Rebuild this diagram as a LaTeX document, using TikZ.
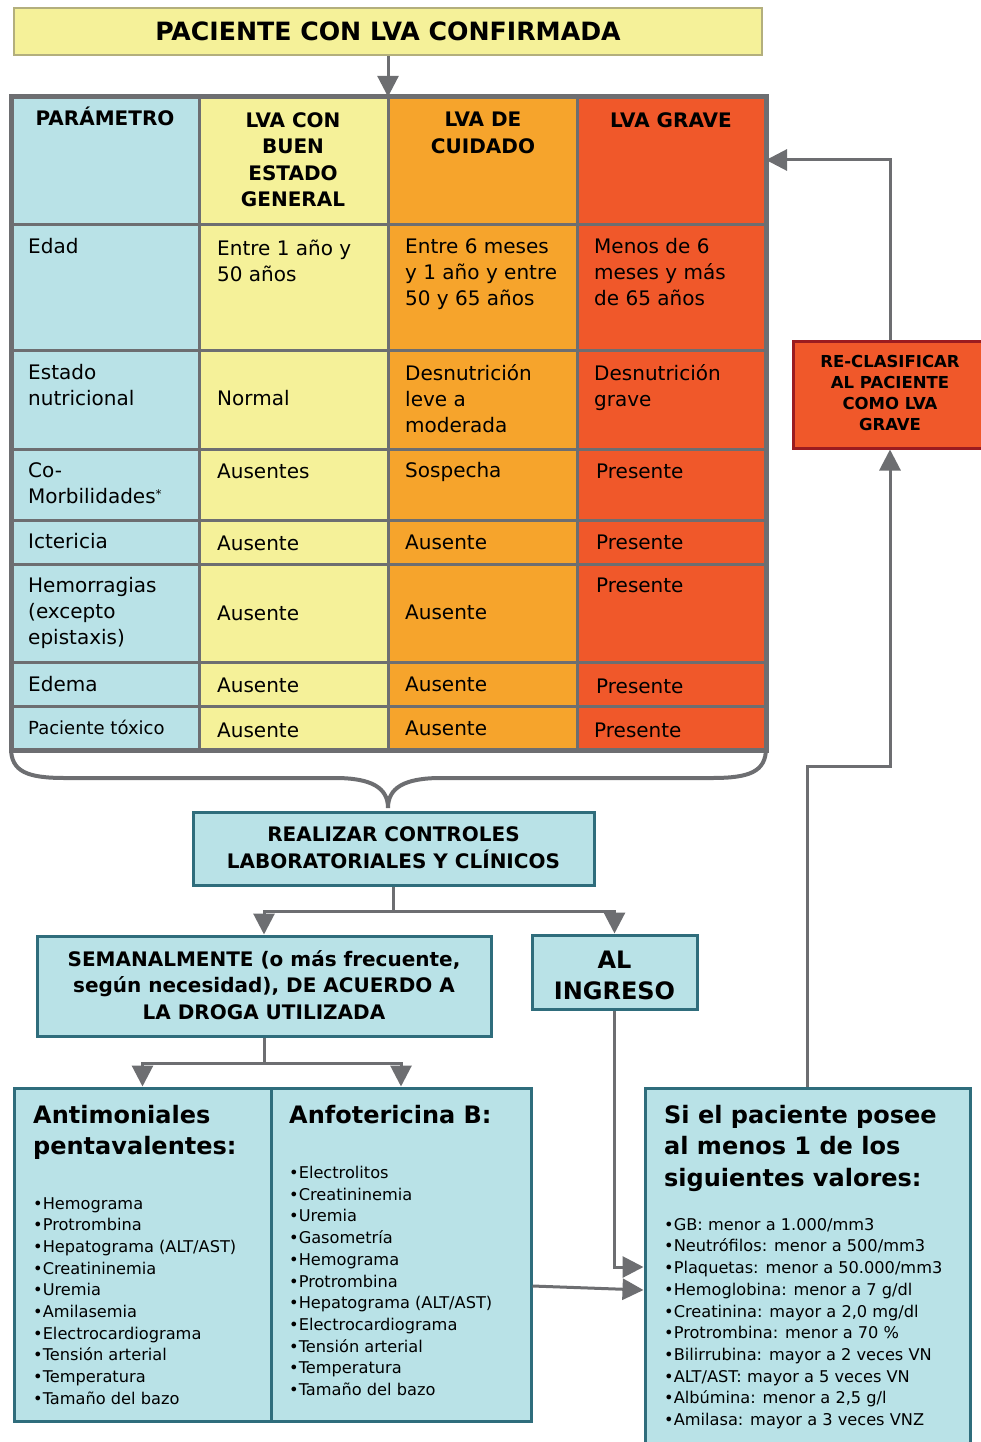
\documentclass[tikz,border=0pt]{standalone}
\usepackage{fontspec}
\setmainfont{DejaVu Sans}
\usetikzlibrary{arrows.meta}
\definecolor{cblue}{HTML}{B9E2E7}
\definecolor{cyel}{HTML}{F5F199}
\definecolor{corange}{HTML}{F6A42C}
\definecolor{cred}{HTML}{F0582A}
\definecolor{cgrey}{HTML}{6D6E71}
\definecolor{cteal}{HTML}{2F6D7C}
\definecolor{cdred}{HTML}{9B1C20}
\definecolor{colive}{HTML}{B3AF7D}
\newcommand{\myfs}[2]{\fontsize{#1}{#2}\selectfont}
\begin{document}
\begin{tikzpicture}[x=1pt,y=-1pt,
  conn/.style={draw=cgrey, line width=3pt, -{Triangle[length=21pt,width=21pt]}},
  plain/.style={draw=cgrey, line width=3pt},
  bracepath/.style={draw=cgrey, line width=4pt},
  grid/.style={draw=cgrey, line width=3pt},
  tbox/.style={draw=cteal, line width=3pt, fill=cblue, inner sep=0},
  cell/.style={anchor=north west, inner sep=0, align=left, font=\myfs{20}{26}},
  hdr/.style={anchor=north, inner sep=0, align=center, font=\bfseries\myfs{20}{26.3}},
  bighead/.style={anchor=north west, inner sep=0, align=left, font=\bfseries\myfs{24}{31.5}},
  items/.style={anchor=north west, inner sep=0, align=left, font=\myfs{16.2}{21.7}},
  boxtext/.style={inner sep=0, align=center, font=\bfseries\myfs{20}{26.5}}
]
\useasboundingbox (0,0) rectangle (981,1442);
\clip (0,0) rectangle (981,1442);

% top box
\node[draw=colive, line width=2.5pt, fill=cyel, minimum width=748pt, minimum height=47pt, inner sep=0,
      font=\bfseries\myfs{25.2}{30}] (top) at (388,31.5) {PACIENTE CON LVA CONFIRMADA};

% table
\fill[cblue] (11,97) rectangle (199,750);
\fill[cyel] (199,97) rectangle (388,750);
\fill[corange] (388,97) rectangle (577,750);
\fill[cred] (577,97) rectangle (766,750);
\foreach \x in {199,388,577} \draw[grid] (\x,97) -- (\x,750);
\foreach \y in {224,350,449,520,564,662,706} \draw[grid] (11,\y) -- (766,\y);
\draw[draw=cgrey, line width=5pt] (11,97) rectangle (766,750);
\node[inner sep=0, minimum width=755pt, minimum height=653pt] (table) at (388,423.5) {};
\coordinate (tabin) at (766,160);

% header
\node[hdr, anchor=base] (h1) at (105,126) {PARÁMETRO};
\node[hdr] (h2) at (293,112.5) {LVA CON\\BUEN\\ESTADO\\GENERAL};
\node[hdr] (h3) at (483,112) {LVA DE\\CUIDADO};
\node[hdr] (h4) at (671,112.5) {LVA GRAVE};

% column 1
\node[cell] (a1) at (28,238.5) {Edad};
\node[cell] (a2) at (28,364.5) {Estado\\nutricional};
\node[cell] (a3) at (28,462.5) {Co-\\Morbilidades\raisebox{5pt}{\myfs{12}{12}*}};
\node[cell] (a4) at (28,533.5) {Ictericia};
\node[cell] (a5) at (28,577.5) {Hemorragias\\(excepto\\epistaxis)};
\node[cell] (a6) at (28,676.5) {Edema};
\node[cell, font=\myfs{18}{22}] (a7) at (28,720) {Paciente tóxico};
% column 2
\node[cell] (b1) at (217,239.5) {Entre 1 año y\\50 años};
\node[cell] (b2) at (217,390.5) {Normal};
\node[cell] (b3) at (217,463.5) {Ausentes};
\node[cell] (b4) at (217,535.5) {Ausente};
\node[cell] (b5) at (217,605.5) {Ausente};
\node[cell] (b6) at (217,677.5) {Ausente};
\node[cell] (b7) at (217,722.5) {Ausente};
% column 3
\node[cell] (c1) at (405,238.5) {Entre 6 meses\\y 1 año y entre\\50 y 65 años};
\node[cell] (c2) at (405,364.5) {Desnutrición\\leve a\\moderada};
\node[cell] (c3) at (405,462.5) {Sospecha};
\node[cell] (c4) at (405,534.5) {Ausente};
\node[cell] (c5) at (405,604.5) {Ausente};
\node[cell] (c6) at (405,676.5) {Ausente};
\node[cell] (c7) at (405,720.5) {Ausente};
% column 4
\node[cell] (d1) at (594,238.5) {Menos de 6\\meses y más\\de 65 años};
\node[cell] (d2) at (594,364.5) {Desnutrición\\grave};
\node[cell] (d3) at (596,463.5) {Presente};
\node[cell] (d4) at (596,534.5) {Presente};
\node[cell] (d5) at (596,577.5) {Presente};
\node[cell] (d6) at (596,678.5) {Presente};
\node[cell] (d7) at (594,722.5) {Presente};

% brace under table
\draw[bracepath] (11,748) .. controls (11,772) and (28,778) .. (65,778) -- (335,778)
  .. controls (372,778) and (388,788) .. (388,808)
  .. controls (388,788) and (404,778) .. (441,778) -- (712,778)
  .. controls (749,778) and (766,772) .. (766,748);

% boxes
\node[tbox, minimum width=401pt, minimum height=73pt] (real) at (393.5,848.5) {};
\node[boxtext] (realt) at (393.5,847.5) {REALIZAR CONTROLES\\LABORATORIALES Y CLÍNICOS};
\node[tbox, minimum width=454pt, minimum height=100pt] (sema) at (264,986) {};
\node[boxtext] (semat) at (264,985) {SEMANALMENTE (o más frecuente,\\según necesidad), DE ACUERDO A\\LA DROGA UTILIZADA};
\node[tbox, minimum width=165pt, minimum height=74pt] (ingr) at (614.5,972) {};
\node[boxtext, font=\bfseries\myfs{24}{31}] (ingrt) at (614.5,975.5) {AL\\INGRESO};

\node[tbox, minimum width=257pt, minimum height=333pt] (anti) at (142.5,1254.5) {};
\node[tbox, minimum width=260pt, minimum height=333pt] (anfo) at (401,1254.5) {};
\node[tbox, minimum width=325pt, minimum height=370pt] (crit) at (807.5,1273) {};

\node[draw=cdred, line width=3pt, fill=cred, minimum width=194pt, minimum height=107pt, inner sep=0] (recl) at (890,394.5) {};
\node[inner sep=0, align=center, font=\bfseries\myfs{16.5}{21}] (reclt) at (890,392.5) {RE-CLASIFICAR\\AL PACIENTE\\COMO LVA\\GRAVE};

% box texts
\node[bighead] (antih) at (33,1105) {Antimoniales\\pentavalentes:};
\node[items] (antil) at (33,1197) {•Hemograma\\•Protrombina\\•Hepatograma (ALT/AST)\\•Creatininemia\\•Uremia\\•Amilasemia\\•Electrocardiograma\\•Tensión arterial\\•Temperatura\\•Tamaño del bazo};
\node[bighead] (anfoh) at (289,1105) {Anfotericina B:};
\node[items] (anfol) at (289,1166) {•Electrolitos\\•Creatininemia\\•Uremia\\•Gasometría\\•Hemograma\\•Protrombina\\•Hepatograma (ALT/AST)\\•Electrocardiograma\\•Tensión arterial\\•Temperatura\\•Tamaño del bazo};
\node[bighead] (crith) at (664,1105) {Si el paciente posee\\al menos 1 de los\\siguientes valores:};
\node[items] (critl) at (664,1218) {•GB: menor a 1.000/mm3\\•Neutrófilos: menor a 500/mm3\\•Plaquetas: menor a 50.000/mm3\\•Hemoglobina: menor a 7 g/dl\\•Creatinina: mayor a 2,0 mg/dl\\•Protrombina: menor a 70 \%\\•Bilirrubina: mayor a 2 veces VN\\•ALT/AST: mayor a 5 veces VN\\•Albúmina: menor a 2,5 g/l\\•Amilasa: mayor a 3 veces VNZ};

% connectors
\draw[conn] (top.south) -- (top.south |- table.north);
\draw[conn] (real.south) -- ++(0,25) -| (sema.north);
\draw[conn] (real.south) -- ++(0,25) -| (ingr.north);
\draw[conn] (sema.south) -- ++(0,26) -| (anti.north);
\draw[conn] (sema.south) -- ++(0,26) -| (anfo.north);
\draw[conn] (ingr.south) |- (crit.west |- 0,1267);
\draw[conn] (anfo.east |- 0,1286) -- (crit.west |- 0,1290);
\draw[conn] (crit.north) -- ++(0,-320) -| (recl.south);
\draw[conn] (recl.north) |- (tabin);
\end{tikzpicture}
\end{document}
